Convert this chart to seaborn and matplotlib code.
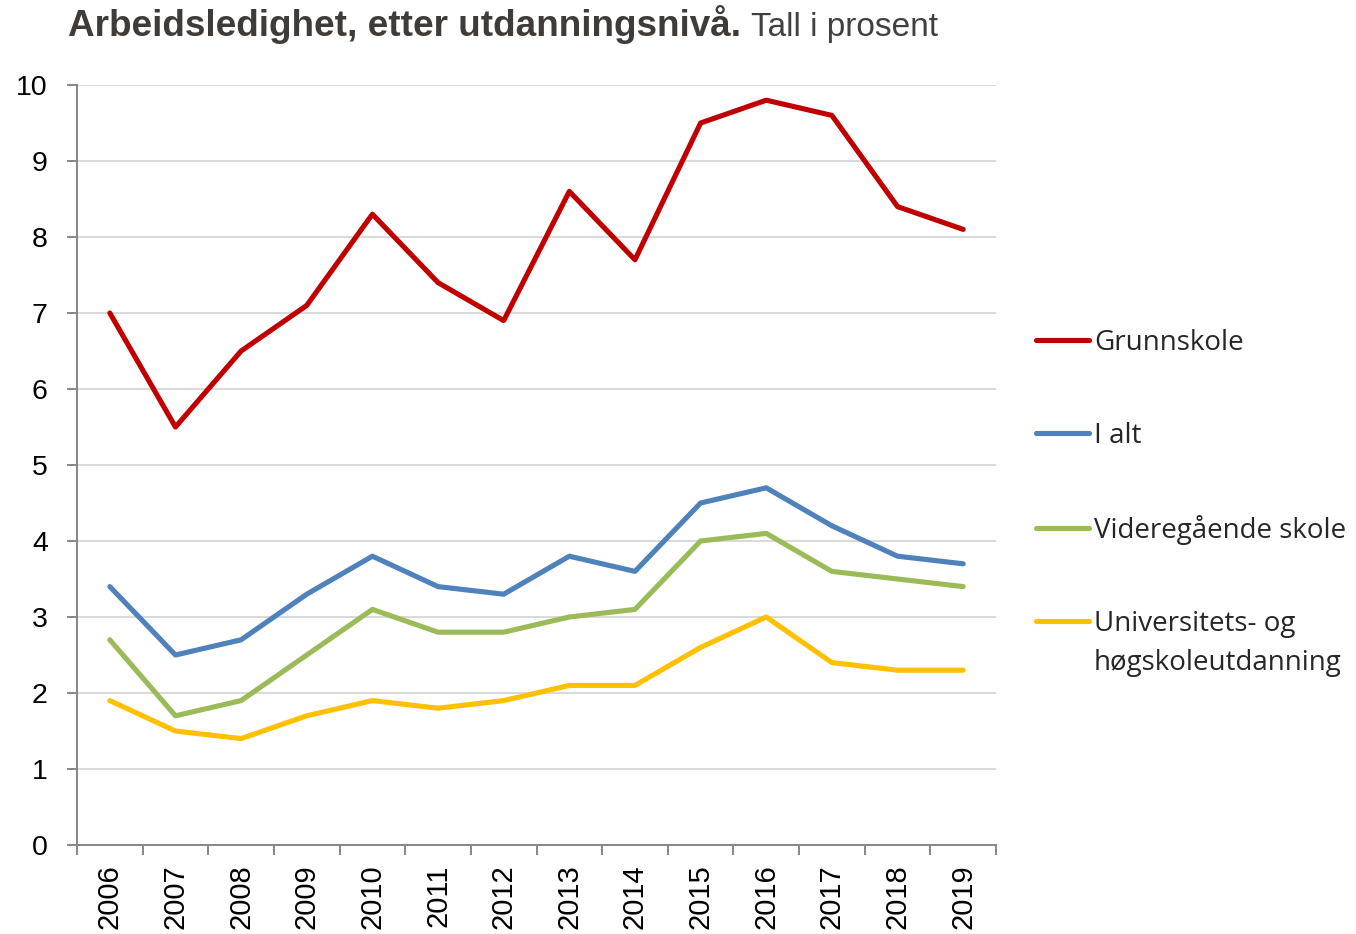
import numpy as np
import pandas as pd
import matplotlib
matplotlib.use("Agg")
import matplotlib.pyplot as plt
from matplotlib.ticker import FixedLocator
import seaborn as sns

years = ["2006", "2007", "2008", "2009", "2010", "2011", "2012",
         "2013", "2014", "2015", "2016", "2017", "2018", "2019"]
grunnskole = [7.0, 5.5, 6.5, 7.1, 8.3, 7.4, 6.9, 8.6, 7.7, 9.5, 9.8, 9.6, 8.4, 8.1]
i_alt = [3.4, 2.5, 2.7, 3.3, 3.8, 3.4, 3.3, 3.8, 3.6, 4.5, 4.7, 4.2, 3.8, 3.7]
videregaende = [2.7, 1.7, 1.9, 2.5, 3.1, 2.8, 2.8, 3.0, 3.1, 4.0, 4.1, 3.6, 3.5, 3.4]
universitet = [1.9, 1.5, 1.4, 1.7, 1.9, 1.8, 1.9, 2.1, 2.1, 2.6, 3.0, 2.4, 2.3, 2.3]

series_names = ["Grunnskole", "I alt", "Videregående skole", "Universitets- og"]
series_values = [grunnskole, i_alt, videregaende, universitet]
colors = ["#C00000", "#4F81BD", "#9BBB59", "#FFC000"]

df = pd.concat([
    pd.DataFrame({"pos": np.arange(len(years)), "value": vals, "serie": name})
    for name, vals in zip(series_names, series_values)
], ignore_index=True)

sns.set_theme(style="white")
plt.rcParams["font.family"] = ["Liberation Sans", "DejaVu Sans"]

fig = plt.figure(figsize=(13.56, 9.34), dpi=100)
ax = fig.add_axes([77 / 1356, 1 - 845 / 934, (996 - 77) / 1356, (845 - 85) / 934])

lw = 3.7
sns.lineplot(data=df, x="pos", y="value", hue="serie", hue_order=series_names,
             palette=colors, linewidth=lw, sort=False, legend=False, ax=ax,
             solid_capstyle="round", solid_joinstyle="round")

ax.set_xlim(-0.5, len(years) - 0.5)
ax.set_ylim(0, 10)
ax.set_yticks(range(0, 11))
ax.set_xticks(np.arange(len(years)))
ax.set_xticklabels(years, rotation=90)
ax.xaxis.set_minor_locator(FixedLocator(np.arange(-0.5, len(years), 1.0)))
ax.set_xlabel("")
ax.set_ylabel("")

ax.grid(axis="y", color="#D9D9D9", linewidth=1.4)
ax.set_axisbelow(True)
for side in ("top", "right"):
    ax.spines[side].set_visible(False)
for side in ("left", "bottom"):
    ax.spines[side].set_color("#868686")
    ax.spines[side].set_linewidth(1.4)

ax.tick_params(axis="y", which="major", direction="out", length=7, width=1.4,
               color="#868686", pad=14, labelsize=20.5, labelcolor="#000000", left=True)
ax.tick_params(axis="x", which="major", length=0, pad=14, labelsize=21,
               labelcolor="#000000", bottom=True)
ax.tick_params(axis="x", which="minor", direction="out", length=7, width=1.4,
               color="#868686", bottom=True)

handles = [plt.Line2D([], [], color=c, linewidth=lw, solid_capstyle="round") for c in colors]
leg = fig.legend(handles, series_names, loc="upper left",
                 bbox_to_anchor=(1036 / 1356, 1 - 329 / 934),
                 frameon=False, handlelength=1.9, handletextpad=0.18,
                 labelspacing=2.34, borderpad=0, borderaxespad=0,
                 prop={"family": "Open Sans", "size": 20})

fig.canvas.draw()
renderer = fig.canvas.get_renderer()
last = leg.get_texts()[-1]
bb = last.get_window_extent(renderer)
fig.text(bb.x0 / fig.bbox.width, (bb.y0 - 39 + (bb.y1 - bb.y0) / 2) / fig.bbox.height,
         "høgskoleutdanning", family="Open Sans", fontsize=20, va="center", ha="left")

t1 = fig.text(68 / 1356, 1 - 36 / 934, "Arbeidsledighet, etter utdanningsnivå.",
              fontweight="bold", fontsize=26.6, color="#3F3B38",
              va="baseline", ha="left")
fig.canvas.draw()
tb = t1.get_window_extent(renderer)
fig.text((tb.x1 + 10) / fig.bbox.width, 1 - 36 / 934, "Tall i prosent",
         fontsize=24, color="#404040", va="baseline", ha="left")

fig.savefig("out.png", dpi=100)
